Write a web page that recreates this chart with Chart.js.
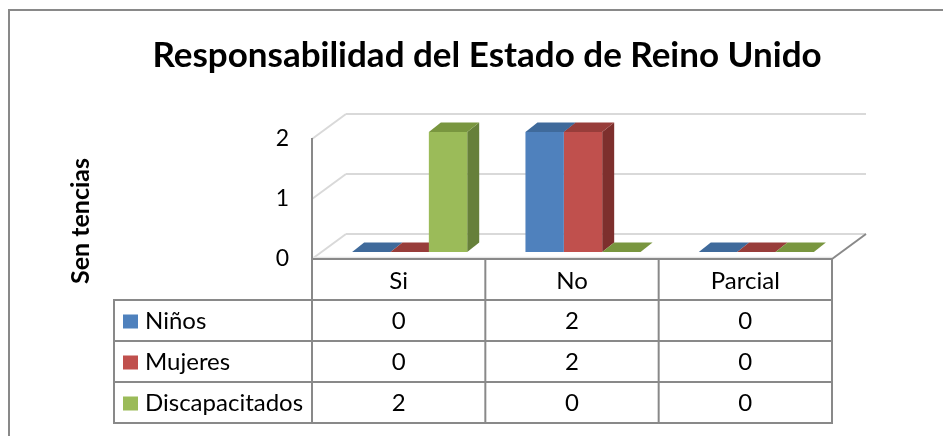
<!DOCTYPE html>
<html>
<head>
<meta charset="utf-8">
<script src="https://cdn.jsdelivr.net/npm/chart.js@4.4.1/dist/chart.umd.min.js"></script>
<style>
  html, body { margin: 0; padding: 0; background: #ffffff; }
  #wrap { width: 943px; height: 436px; position: relative; }
</style>
</head>
<body>
<div id="wrap"><canvas id="c" width="943" height="436"></canvas></div>
<script>
// ---- data ----
const chartTitle = 'Responsabilidad del Estado de Reino Unido';
const yAxisTitle = 'Sen tencias';
const categories = ['Si', 'No', 'Parcial'];
const seriesNames = ['Niños', 'Mujeres', 'Discapacitados'];
const ninos = [0, 2, 0];
const mujeres = [0, 2, 0];
const discapacitados = [2, 0, 0];
const yTicks = [0, 1, 2];

// ---- styles ----
const frontColors = ['#4F81BD', '#C0504D', '#9BBB59'];
const topColors = ['#3F6A9B', '#983D3A', '#79963F'];
const sideColors = ['#37598A', '#7D2F2D', '#66803A'];
const FONT = 'Lato, "Liberation Sans", sans-serif';
const GRID_LIGHT = '#d9d9d9';
const AXIS_GRAY = '#898989';
const WALL = { x: 34, y: -25 };      // full depth of the 3D box
const SHIFT = { x: 11, y: -7 };      // front face of bars relative to front plane
const BDEPTH = { x: 12, y: -9.5 };   // depth of each bar

function line(ctx, x1, y1, x2, y2, color, w) {
  ctx.beginPath(); ctx.strokeStyle = color; ctx.lineWidth = w;
  ctx.moveTo(x1, y1); ctx.lineTo(x2, y2); ctx.stroke();
}
function poly(ctx, pts, color) {
  ctx.beginPath(); ctx.fillStyle = color;
  ctx.moveTo(pts[0][0], pts[0][1]);
  for (let i = 1; i < pts.length; i++) ctx.lineTo(pts[i][0], pts[i][1]);
  ctx.closePath(); ctx.fill();
}

const threeD = {
  id: 'threeD',
  beforeDatasetsDraw(chart) {
    const ctx = chart.ctx, xs = chart.scales.x, ys = chart.scales.y;
    const L = xs.left, R = xs.right;
    ctx.save();
    // back wall + side wall gridlines
    yTicks.forEach(v => {
      const y = ys.getPixelForValue(v);
      line(ctx, L + WALL.x, y + WALL.y, R + WALL.x, y + WALL.y, GRID_LIGHT, 2);
      line(ctx, L, y, L + WALL.x, y + WALL.y, GRID_LIGHT, 2);
    });
    const y0 = ys.getPixelForValue(0);
    // floor front light edge
    line(ctx, L, y0 - 1.5, R, y0 - 1.5, '#e6e6e6', 1.5);
    // axis lines
    line(ctx, L, ys.getPixelForValue(yTicks[yTicks.length - 1]) - 1, L, y0 + 1, AXIS_GRAY, 2);
    line(ctx, L, y0, R, y0, AXIS_GRAY, 2);
    line(ctx, R, y0, R + WALL.x, y0 + WALL.y, AXIS_GRAY, 2);

    const metas = chart.getSortedVisibleDatasetMetas();
    // side faces
    metas.forEach((meta) => meta.data.forEach((bar, i) => {
      const p = bar.getProps(['x', 'y', 'base', 'width'], true);
      const v = chart.data.datasets[meta.index].data[i];
      if (!v) return;
      const right = p.x + p.width / 2 + SHIFT.x;
      const top = p.y + SHIFT.y, bot = p.base + SHIFT.y;
      poly(ctx, [[right, top], [right + BDEPTH.x, top + BDEPTH.y], [right + BDEPTH.x, bot + BDEPTH.y], [right, bot]], sideColors[meta.index]);
    }));
    // top faces
    metas.forEach((meta) => meta.data.forEach((bar) => {
      const p = bar.getProps(['x', 'y', 'base', 'width'], true);
      const left = p.x - p.width / 2 + SHIFT.x, right = p.x + p.width / 2 + SHIFT.x;
      const top = p.y + SHIFT.y;
      poly(ctx, [[left, top], [left + BDEPTH.x, top + BDEPTH.y], [right + BDEPTH.x, top + BDEPTH.y], [right, top]], topColors[meta.index]);
    }));
    ctx.restore();
    // front faces are drawn by Chart.js, shifted into the box depth
    ctx.save();
    ctx.translate(SHIFT.x, SHIFT.y);
  },
  afterDatasetsDraw(chart) {
    chart.ctx.restore();
  },
  afterDraw(chart) {
    const ctx = chart.ctx, xs = chart.scales.x, ys = chart.scales.y;
    ctx.save();
    // outer chart border (top + left visible)
    line(ctx, 9, 10, 943, 10, AXIS_GRAY, 2);
    line(ctx, 9, 9, 9, 436, AXIS_GRAY, 2);

    // title
    ctx.fillStyle = '#000';
    ctx.font = 'bold 35px ' + FONT;
    ctx.textAlign = 'center'; ctx.textBaseline = 'alphabetic';
    ctx.fillText(chartTitle, 487, 67);

    // y axis title
    ctx.save();
    ctx.translate(89, 221);
    ctx.rotate(-Math.PI / 2);
    ctx.font = 'bold 25px ' + FONT;
    ctx.textAlign = 'center'; ctx.textBaseline = 'alphabetic';
    ctx.fillText(yAxisTitle, 0, 0);
    ctx.restore();

    // data table
    const y0 = ys.getPixelForValue(0);
    const catW = (xs.right - xs.left) / categories.length;
    const headerBottom = 300, rowH = 41;
    const tableLeft = 114;
    const rows = chart.data.datasets;
    const tableBottom = headerBottom + rowH * rows.length;
    for (let i = 0; i <= categories.length; i++) {
      const x = xs.left + catW * i;
      line(ctx, x, y0, x, tableBottom + 1, AXIS_GRAY, 2);
    }
    line(ctx, tableLeft, headerBottom - 1, tableLeft, tableBottom + 1, AXIS_GRAY, 2);
    for (let r = 0; r <= rows.length; r++) {
      const y = headerBottom + rowH * r;
      line(ctx, tableLeft - 1, y, xs.right + 1, y, AXIS_GRAY, 2);
    }
    ctx.fillStyle = '#000';
    ctx.font = '24px ' + FONT;
    ctx.textAlign = 'center'; ctx.textBaseline = 'middle';
    categories.forEach((c, i) => ctx.fillText(c, xs.getPixelForValue(i), (y0 + headerBottom) / 2 + 2));
    rows.forEach((ds, r) => {
      const cy = headerBottom + rowH * r + rowH / 2 + 1;
      ctx.fillStyle = frontColors[r];
      ctx.fillRect(123, cy - 7, 15, 14);
      ctx.fillStyle = '#000';
      ctx.textAlign = 'left';
      ctx.fillText(ds.label, 145, cy);
      ctx.textAlign = 'center';
      ds.data.forEach((v, i) => ctx.fillText(String(v), xs.getPixelForValue(i), cy));
    });
    ctx.restore();
  }
};

const seriesValues = [ninos, mujeres, discapacitados];
const chart = new Chart(document.getElementById('c'), {
  type: 'bar',
  data: {
    labels: categories,
    datasets: seriesNames.map((name, i) => ({
      label: name,
      data: seriesValues[i],
      backgroundColor: frontColors[i],
      borderWidth: 0,
      categoryPercentage: 0.664,
      barPercentage: 1.0
    }))
  },
  options: {
    responsive: false,
    animation: false,
    devicePixelRatio: 1,
    layout: { padding: { left: 212, right: 111, top: 139, bottom: 177 } },
    plugins: {
      legend: { display: false },
      title: { display: false },
      tooltip: { enabled: false }
    },
    scales: {
      x: { display: false },
      y: {
        min: 0, max: 2,
        afterFit: s => { s.width = 100; },
        grid: { display: false, drawTicks: false },
        border: { display: false },
        ticks: {
          stepSize: 1,
          padding: 23,
          color: '#000',
          font: { family: FONT, size: 23 },
          callback: (v) => yTicks.includes(v) ? String(v) : ''
        }
      }
    }
  },
  plugins: [threeD]
});
</script>
</body>
</html>
